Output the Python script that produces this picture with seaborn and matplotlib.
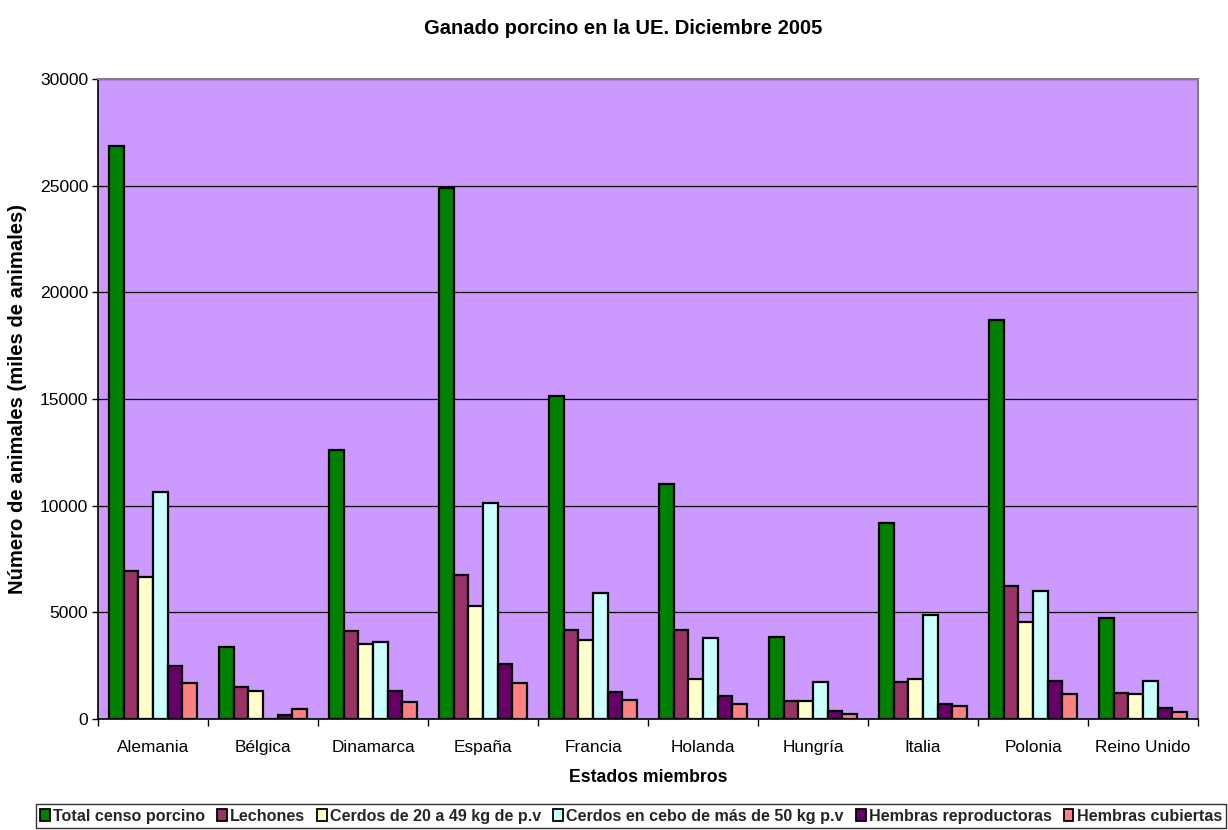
import matplotlib
matplotlib.use("Agg")
import matplotlib.pyplot as plt
import seaborn as sns
import pandas as pd
import numpy as np
from matplotlib.patches import Patch

countries = ["Alemania", "Bélgica", "Dinamarca", "España", "Francia",
             "Holanda", "Hungría", "Italia", "Polonia", "Reino Unido"]
series = ["Total censo porcino", "Lechones", "Cerdos de 20 a 49 kg de p.v",
          "Cerdos en cebo de más de 50 kg p.v", "Hembras reproductoras",
          "Hembras cubiertas"]
total = [26860, 3390, 12600, 24900, 15120, 11000, 3840, 9200, 18700, 4730]
lechones = [6940, 1500, 4110, 6750, 4150, 4160, 830, 1720, 6250, 1230]
cerdos_20_49 = [6660, 1320, 3530, 5310, 3720, 1890, 840, 1860, 4560, 1170]
cebo_50 = [10650, 0, 3610, 10130, 5900, 3810, 1750, 4880, 6020, 1800]
hembras_rep = [2480, 210, 1330, 2580, 1270, 1090, 390, 700, 1800, 500]
hembras_cub = [1710, 450, 810, 1710, 910, 720, 250, 595, 1170, 340]
colors = ["#008000", "#993366", "#FFFFCC", "#CCFFFF", "#660066", "#FF8080"]
yticks = [0, 5000, 10000, 15000, 20000, 25000, 30000]

values = [total, lechones, cerdos_20_49, cebo_50, hembras_rep, hembras_cub]
rows = []
for s, vals in zip(series, values):
    for c, v in zip(countries, vals):
        rows.append({"País": c, "Serie": s, "Valor": v})
df = pd.DataFrame(rows)

sns.set_theme(style="white")
plt.rcParams["font.family"] = ["Liberation Sans", "DejaVu Sans"]

fig = plt.figure(figsize=(12.28, 8.30), dpi=100)
ax = fig.add_axes([98 / 1228, 1 - 719 / 830, 1100 / 1228, 640 / 830])
ax.set_facecolor("#CC99FF")

sns.barplot(data=df, x="País", y="Valor", hue="Serie", order=countries,
            hue_order=series, palette=colors, width=0.8, ax=ax,
            edgecolor="black", linewidth=1.6, saturation=1, legend=False,
            errorbar=None, zorder=3)

ax.set_ylim(0, 30000)
ax.set_xlim(-0.5, len(countries) - 0.5)
ax.set_yticks(yticks)
ax.set_yticklabels([str(t) for t in yticks], fontsize=12.6, color="black")
ax.yaxis.grid(True, color="black", linewidth=0.9, zorder=1)
ax.set_axisbelow(True)
ax.tick_params(axis="y", which="major", length=4, width=1, color="black",
               direction="out", left=True, pad=3)
ax.set_xticks(range(len(countries)))
ax.set_xticklabels(countries, fontsize=12.4, color="black")
ax.tick_params(axis="x", which="major", length=0, pad=15)
ax.set_xticks(np.arange(-0.5, len(countries), 1.0), minor=True)
ax.tick_params(axis="x", which="minor", length=5, width=1, color="black",
               direction="out", bottom=True)

for side in ["top", "right"]:
    ax.spines[side].set_color("#808080")
    ax.spines[side].set_linewidth(1.5)
for side in ["left", "bottom"]:
    ax.spines[side].set_color("black")
    ax.spines[side].set_linewidth(1.2)

ax.set_xlabel("Estados miembros", fontsize=12.7, fontweight="bold",
              color="black", va="center")
ax.xaxis.set_label_coords(0.5, (719 - 777) / 640)
ax.set_ylabel("Número de animales (miles de animales)", fontsize=14.6,
              fontweight="bold", color="black", va="center")
ax.yaxis.set_label_coords((18 - 98) / 1100, 0.5)
fig.text(0.5 * (415 + 832) / 1228, 1 - 28 / 830,
         "Ganado porcino en la UE. Diciembre 2005", fontsize=14.5,
         fontweight="bold", ha="center", va="center", color="black")

handles = [Patch(facecolor=c, edgecolor="black", linewidth=1.3) for c in colors]
leg = fig.legend(handles, series, loc="center", ncol=6,
                 bbox_to_anchor=(631 / 1228, 1 - 816 / 830),
                 frameon=True, fancybox=False, edgecolor="black",
                 handlelength=0.6, handleheight=0.8, handletextpad=0.2,
                 columnspacing=0.75, borderpad=0.25, borderaxespad=0,
                 prop={"weight": "bold", "size": 11.6})
leg.get_frame().set_linewidth(1.0)

fig.savefig("out.png", dpi=100, facecolor="white")
